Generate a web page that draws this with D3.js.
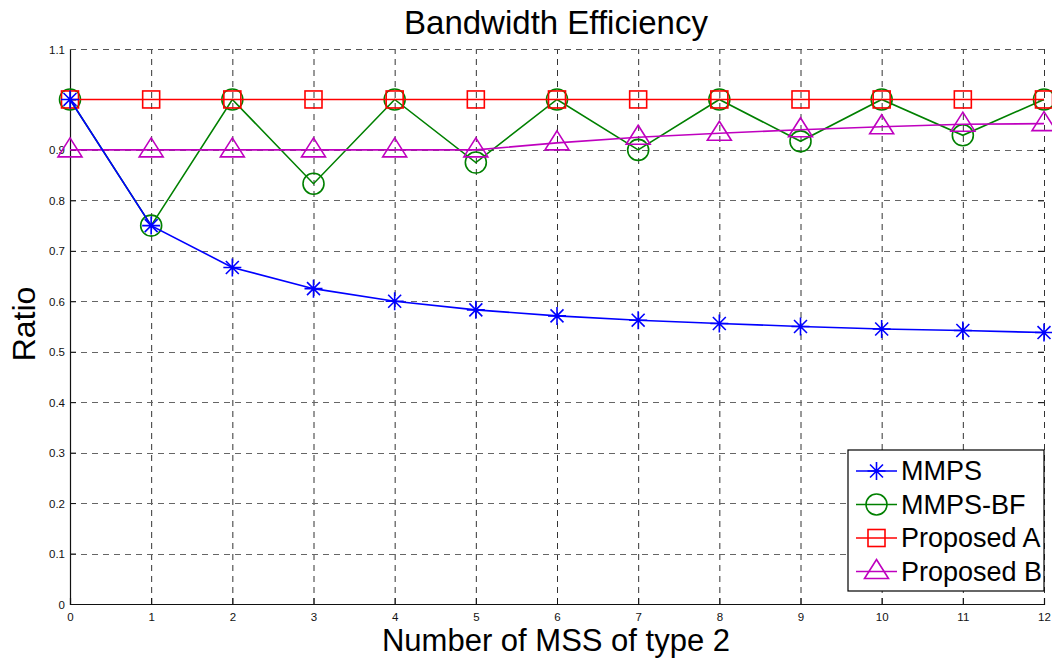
<!DOCTYPE html>
<html>
<head>
<meta charset="utf-8">
<script src="https://cdn.jsdelivr.net/npm/d3@7"></script>
<style>
  body { margin: 0; background: #fff; }
  svg { font-family: "Liberation Sans", Arial, sans-serif; }
</style>
</head>
<body>
<div id="chart"></div>
<script>
// data
const xs = [0, 1, 2, 3, 4, 5, 6, 7, 8, 9, 10, 11, 12]
const mmps = [1, 0.75, 0.667, 0.625, 0.6, 0.583, 0.571, 0.5625, 0.556, 0.55, 0.545, 0.542, 0.538]
const mmpsBF = [1, 0.75, 1, 0.833, 1, 0.875, 1, 0.9, 1, 0.917, 1, 0.929, 1]
const proposedA = [1, 1, 1, 1, 1, 1, 1, 1, 1, 1, 1, 1, 1]
const proposedB = [0.9, 0.9, 0.9, 0.9, 0.9, 0.9, 0.914, 0.925, 0.933, 0.94, 0.946, 0.951, 0.952]
const yTicks = [0, 0.1, 0.2, 0.3, 0.4, 0.5, 0.6, 0.7, 0.8, 0.9, 1, 1.1]
const yTickLabels = ["0", "0.1", "0.2", "0.3", "0.4", "0.5", "0.6", "0.7", "0.8", "0.9", "", "1.1"]

const width = 1052
const height = 659
const margin = {left: 70, right: 8, top: 49, bottom: 55}

const svg = d3.select("#chart")
  .append("svg")
    .attr("width", width)
    .attr("height", height)

const x = d3.scaleLinear().domain([0, 12]).range([margin.left, width - margin.right])
const y = d3.scaleLinear().domain([0, 1.1]).range([height - margin.bottom, margin.top])

// grid
svg.append("g")
  .selectAll("line")
  .data(xs.slice(1))
  .join("line")
    .attr("x1", d => x(d) + 0.5).attr("x2", d => x(d) + 0.5)
    .attr("y1", y(0)).attr("y2", y(1.1))
    .attr("stroke", "#333")
    .attr("stroke-dasharray", "6,5")

svg.append("g")
  .selectAll("line")
  .data(yTicks.slice(1))
  .join("line")
    .attr("x1", x(0)).attr("x2", x(12))
    .attr("y1", d => Math.round(y(d)) + 0.5).attr("y2", d => Math.round(y(d)) + 0.5)
    .attr("stroke", "#666")
    .attr("stroke-dasharray", "6,5")

// axes (inward ticks)
const xAxis = svg.append("g")
  .attr("transform", `translate(0,${y(0)})`)
  .call(d3.axisBottom(x).tickValues(xs).tickSize(-6).tickPadding(9).tickFormat(d3.format("d")))
const yAxis = svg.append("g")
  .attr("transform", `translate(${x(0)},0)`)
  .call(d3.axisLeft(y).tickValues(yTicks).tickSize(-6).tickPadding(5).tickFormat((d, i) => yTickLabels[i]))

for (const ax of [xAxis, yAxis]) {
  ax.select(".domain").attr("stroke", "#111").attr("stroke-width", 1.2)
  ax.selectAll(".tick line").attr("stroke", "#111")
  ax.selectAll("text").style("font-size", "11.5px").attr("fill", "#111")
}
yAxis.selectAll(".tick text").attr("dy", "0.35em")

// right axis ticks
svg.append("g")
  .attr("transform", `translate(${x(12)},0)`)
  .call(d3.axisRight(y).tickValues(yTicks).tickSize(-6).tickFormat(""))
  .call(g => g.select(".domain").remove())
  .selectAll(".tick line").attr("stroke", "#111")

// series
const series = [
  {name: "MMPS-BF", values: mmpsBF, color: "#008000", marker: "circle"},
  {name: "Proposed A", values: proposedA, color: "#ff0000", marker: "square"},
  {name: "Proposed B", values: proposedB, color: "#bf00bf", marker: "triangle"},
  {name: "MMPS", values: mmps, color: "#0000ff", marker: "star"},
]

const line = d3.line().x((d, i) => x(xs[i])).y(d => y(d))

function drawMarker(g, type, color) {
  if (type === "circle") {
    g.append("circle").attr("r", 10.5)
      .attr("fill", "none").attr("stroke", color).attr("stroke-width", 1.6)
  } else if (type === "square") {
    g.append("rect").attr("x", -8.5).attr("y", -8.5).attr("width", 17).attr("height", 17)
      .attr("fill", "none").attr("stroke", color).attr("stroke-width", 1.6)
  } else if (type === "triangle") {
    g.append("path").attr("d", "M0,-12L12,7L-12,7Z")
      .attr("fill", "none").attr("stroke", color).attr("stroke-width", 1.6)
  } else {
    const r = 9
    let d = `M${-r},0L${r},0M0,${-r}L0,${r}`
    const a = r * 0.72
    d += `M${-a},${-a}L${a},${a}M${-a},${a}L${a},${-a}`
    g.append("path").attr("d", d).attr("stroke", color).attr("stroke-width", 1.6)
  }
}

for (const s of series) {
  svg.append("path")
    .datum(s.values)
    .attr("d", line)
    .attr("fill", "none")
    .attr("stroke", s.color)
    .attr("stroke-width", 1.6)
  svg.append("g")
    .selectAll("g")
    .data(s.values)
    .join("g")
      .attr("transform", (d, i) => `translate(${x(xs[i])},${y(d)})`)
      .each(function() { drawMarker(d3.select(this), s.marker, s.color) })
}

// top box line dashed like grid
svg.append("line")
  .attr("x1", x(0)).attr("x2", x(12)).attr("y1", y(1.1) + 0.5).attr("y2", y(1.1) + 0.5)
  .attr("stroke", "#555").attr("stroke-dasharray", "6,5")

// titles
svg.append("text")
  .attr("x", 556).attr("y", 34)
  .attr("text-anchor", "middle")
  .style("font-size", "33px")
  .text("Bandwidth Efficiency")

svg.append("text")
  .attr("x", 556).attr("y", 651)
  .attr("text-anchor", "middle")
  .style("font-size", "31px")
  .text("Number of MSS of type 2")

svg.append("text")
  .attr("transform", "translate(35,324) rotate(-90)")
  .attr("text-anchor", "middle")
  .style("font-size", "32px")
  .text("Ratio")

// legend
const legendOrder = ["MMPS", "MMPS-BF", "Proposed A", "Proposed B"]
const legend = svg.append("g").attr("transform", "translate(848,450)")
legend.append("rect")
  .attr("width", 196).attr("height", 141)
  .attr("fill", "#fff").attr("stroke", "#000").attr("stroke-width", 1.2)

legendOrder.forEach((name, i) => {
  const s = series.find(d => d.name === name)
  const row = legend.append("g").attr("transform", `translate(0,${21 + i * 33.5})`)
  row.append("line").attr("x1", 8).attr("x2", 49).attr("stroke", s.color).attr("stroke-width", 1.6)
  drawMarker(row.append("g").attr("transform", "translate(28.5,0)"), s.marker, s.color)
  row.append("text")
    .attr("x", 53).attr("dy", "0.35em")
    .style("font-size", "27px")
    .text(name)
})
</script>
</body>
</html>
